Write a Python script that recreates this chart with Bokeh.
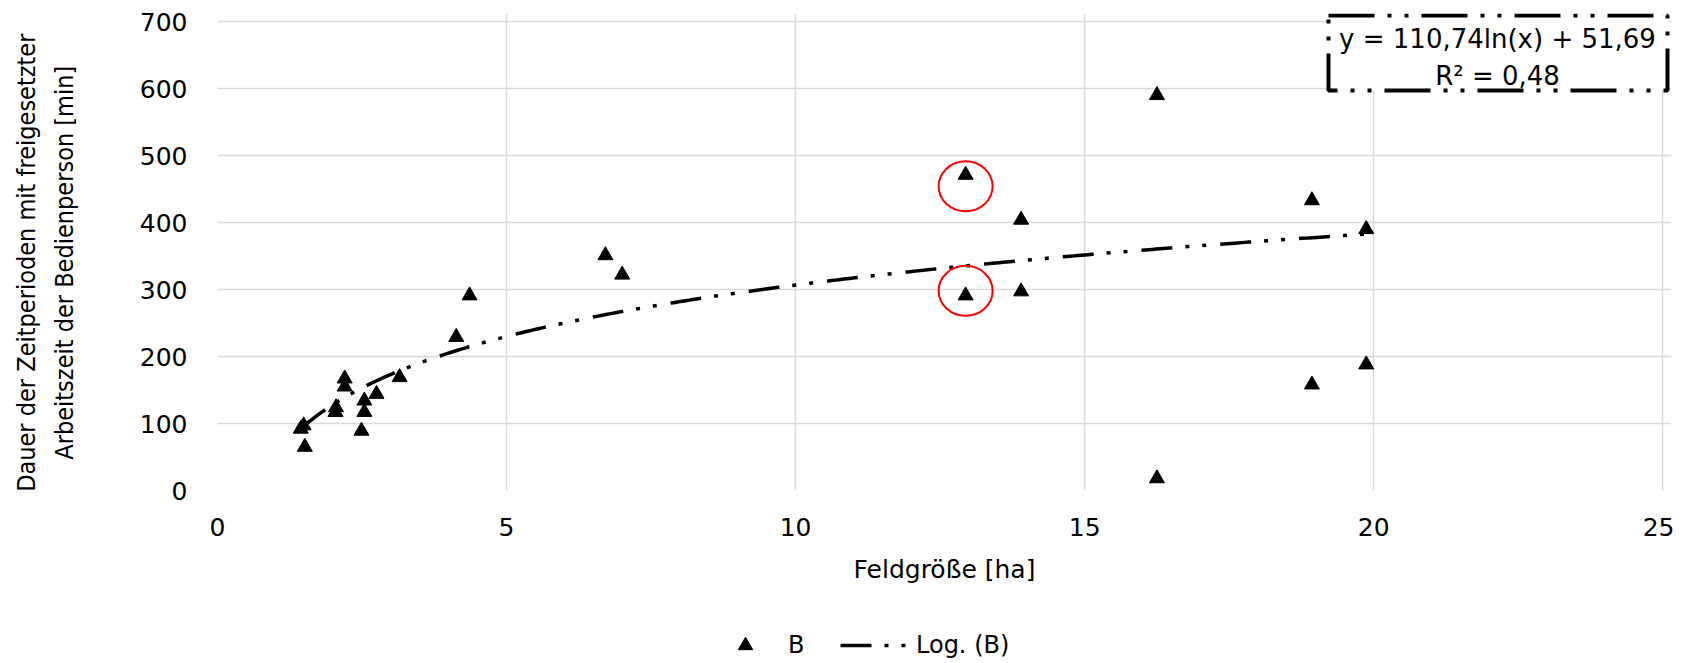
import numpy as np
from bokeh.plotting import figure
from bokeh.layouts import column
from bokeh.models import Range1d, Label, Legend, LegendItem, FixedTicker, BoxAnnotation
from bokeh.embed import file_html
from bokeh.resources import INLINE

# ---- data ----
field_size_ha = [1.44, 1.49, 1.51, 2.04, 2.05, 2.20, 2.20, 2.49, 2.54, 2.54, 2.75, 3.15,
                 4.13, 4.36, 6.71, 7.00, 12.94, 12.94, 13.90, 13.90, 16.25, 16.25,
                 18.93, 18.93, 19.87, 19.87]
duration_min = [92, 97, 65, 117, 124, 167, 155, 89, 117, 134, 144, 169,
                229, 291, 351, 322, 471, 291, 404, 297, 590, 18,
                433, 158, 390, 188]

trend_a = 110.74
trend_b = 51.69
equation_lines = ["y = 110,74ln(x) + 51,69", "R² = 0,48"]

highlight_x = [12.94, 12.94]
highlight_y = [454, 298]

x_ticks = [0, 5, 10, 15, 20, 25]
y_ticks = [0, 100, 200, 300, 400, 500, 600, 700]
x_title = "Feldgröße [ha]"
y_title_lines = ["Dauer der Zeitperioden mit freigesetzter",
                 "Arbeitszeit der Bedienperson [min]"]
series_label = "B"
trend_label = "Log. (B)"

FONT = "DejaVu Sans"
GRID = "#d9d9d9"
TREND_DASH = "31 13 4 13 4 14"
NBSP = "\u00a0"

p = figure(width=1674, height=600, output_backend="svg", toolbar_location=None,
           x_range=Range1d(0, 25.15), y_range=Range1d(0, 712),
           min_border_left=217, min_border_right=3, min_border_top=13,
           min_border_bottom=110, background_fill_color="white",
           border_fill_color="white")
p.outline_line_color = None

for ax, ticks in ((p.xaxis, x_ticks), (p.yaxis, y_ticks)):
    ax.ticker = FixedTicker(ticks=ticks)
    ax.axis_line_color = None
    ax.major_tick_line_color = None
    ax.minor_tick_line_color = None
    ax.major_tick_out = 0
    ax.major_tick_in = 0
    ax.major_label_text_font = FONT
    ax.major_label_text_font_size = "25px"
    ax.major_label_text_color = "black"
    ax.axis_label_text_font_style = "normal"
    ax.axis_label_text_color = "black"

p.xaxis.major_label_standoff = 27
p.yaxis.major_label_standoff = 30
p.xaxis.axis_label = x_title
p.xaxis.axis_label_text_font = FONT
p.xaxis.axis_label_text_font_size = "25px"
p.xaxis.axis_label_standoff = 16

p.yaxis.axis_label = "\n".join(line + NBSP * 3 for line in y_title_lines)
p.yaxis.axis_label_text_font = "DejaVu Sans Condensed"
p.yaxis.axis_label_text_font_size = "25px"
p.yaxis.axis_label_text_line_height = 1.30
p.yaxis.axis_label_standoff = 58

p.xgrid.ticker = FixedTicker(ticks=x_ticks)
p.ygrid.ticker = FixedTicker(ticks=y_ticks)
p.xgrid.grid_line_color = GRID
p.ygrid.grid_line_color = GRID
p.xgrid.grid_line_width = 1.5
p.ygrid.grid_line_width = 1.5

# trend line from the fitted equation
xs = np.linspace(min(field_size_ha), max(field_size_ha), 300)
ys = trend_a * np.log(xs) + trend_b
p.line(xs, ys, line_width=3.5, line_color="black", line_dash=TREND_DASH)

p.scatter(field_size_ha, duration_min, marker="triangle", size=15,
          fill_color="black", line_color="black")

p.ellipse(x=highlight_x, y=highlight_y, width=54, height=50,
          width_units="screen", height_units="screen",
          fill_color=None, line_color="red", line_width=2)

# equation box
p.add_layout(BoxAnnotation(left=1111, right=1450, top=475, bottom=400,
                           left_units="screen", right_units="screen",
                           top_units="screen", bottom_units="screen",
                           fill_color="white", fill_alpha=1.0,
                           line_color="black", line_width=4, line_alpha=1.0,
                           line_dash="46 13 4 13 4 13"))
for yy, txt in ((452, equation_lines[0]), (415, equation_lines[1])):
    p.add_layout(Label(x=1280, y=yy, x_units="screen", y_units="screen",
                       text=txt, text_align="center", text_baseline="middle",
                       text_font=FONT, text_font_size="26px", text_color="black"))

# legend strip below the chart (sample glyphs sit outside its visible range)
lg = figure(width=1674, height=63, output_backend="svg", toolbar_location=None,
            x_range=Range1d(0, 1), y_range=Range1d(0, 1),
            x_axis_location=None, y_axis_location=None, min_border=0,
            background_fill_color="white", border_fill_color="white")
lg.outline_line_color = None
lg.xgrid.visible = False
lg.ygrid.visible = False
s_leg = lg.scatter(x=[-10], y=[-10], marker="triangle", size=15,
                   fill_color="black", line_color="black")
t_leg = lg.line(x=[-10, -9], y=[-10, -10], line_width=3.5, line_color="black",
                line_dash=TREND_DASH)
legend = Legend(items=[LegendItem(label=series_label, renderers=[s_leg]),
                       LegendItem(label=trend_label, renderers=[t_leg])],
                orientation="horizontal", location=(495, 0),
                glyph_width=66, glyph_height=36, label_height=36,
                label_standoff=10, spacing=32, padding=0, margin=0,
                border_line_color=None, background_fill_alpha=0,
                label_text_font=FONT, label_text_font_size="24px",
                label_text_color="black")
lg.add_layout(legend)

layout = column(p, lg, spacing=0)
open("out.html", "w").write(file_html(layout, INLINE))
